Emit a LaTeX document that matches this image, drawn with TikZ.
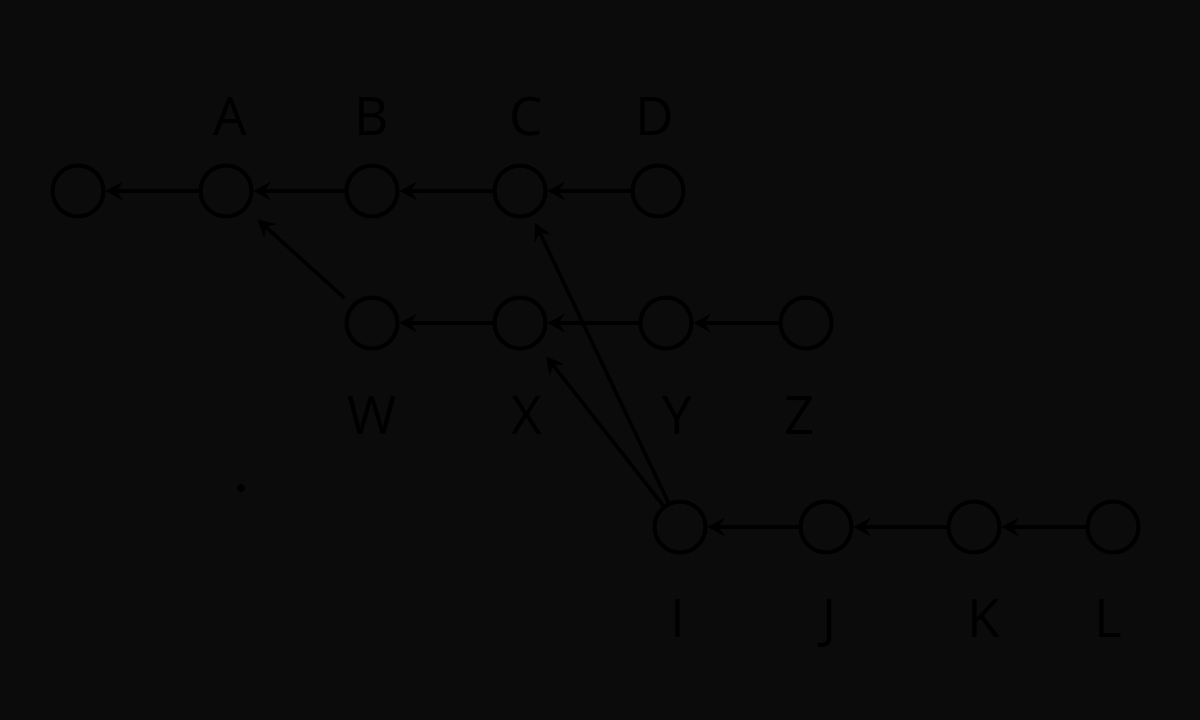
\documentclass[tikz,border=0pt]{standalone}
\usepackage{fontspec}
\setmainfont{Open Sans}
\usetikzlibrary{arrows.meta}
\definecolor{bg}{HTML}{0B0B0B}
\begin{document}
\begin{tikzpicture}[x=1pt,y=-1pt,
  cnode/.style={circle,draw=black,line width=4pt,minimum size=51pt,inner sep=0pt},
  lbl/.style={text=black,font=\fontsize{53}{53}\selectfont,inner sep=0pt,anchor=base},
  arr/.style={draw=black,line width=3.5pt,-{Stealth[length=17pt,width=18pt,inset=6pt]}}]
\fill[bg] (0,0) rectangle (1200,720);
\useasboundingbox (0,0) rectangle (1200,720);
% top row
\node[cnode] (O) at (78,191) {};
\node[cnode] (A) at (226,191) {};
\node[cnode] (B) at (372,191) {};
\node[cnode] (C) at (520,191) {};
\node[cnode] (D) at (658,191) {};
% middle row
\node[cnode] (W) at (372,323) {};
\node[cnode] (X) at (520,323) {};
\node[cnode] (Y) at (666,323) {};
\node[cnode] (Z) at (806,323) {};
% bottom row
\node[cnode] (I) at (680,527) {};
\node[cnode] (J) at (826,527) {};
\node[cnode] (K) at (974,527) {};
\node[cnode] (L) at (1113,527) {};
% labels
\node[lbl] (lA) at (230,135) {A};
\node[lbl] (lB) at (372,135) {B};
\node[lbl] (lC) at (526,135) {C};
\node[lbl] (lD) at (655,135) {D};
\node[lbl] (lW) at (372,434) {W};
\node[lbl] (lX) at (527,434) {X};
\node[lbl] (lY) at (677,434) {Y};
\node[lbl] (lZ) at (800,434) {Z};
\node[lbl] (lI) at (678,637) {I};
\node[lbl] (lJ) at (830,637) {J};
\node[lbl] (lK) at (984,637) {K};
\node[lbl] (lL) at (1108,637) {L};
% dot
\fill[black] (241,488) circle (4pt) coordinate (dot);
% edges
\draw[arr] (A) -- (O);
\draw[arr] (B) -- (A);
\draw[arr] (C) -- (B);
\draw[arr] (D) -- (C);
\draw[arr] (X) -- (W);
\draw[arr] (Y) -- (X);
\draw[arr] (Z) -- (Y);
\draw[arr] (J) -- (I);
\draw[arr] (K) -- (J);
\draw[arr] (L) -- (K);
\draw[arr,shorten <=10pt,shorten >=15pt] (W) -- (A);
\draw[arr,shorten >=15pt] (I) -- (X);
\draw[arr,shorten >=8pt] (I) -- (C);
\end{tikzpicture}
\end{document}
